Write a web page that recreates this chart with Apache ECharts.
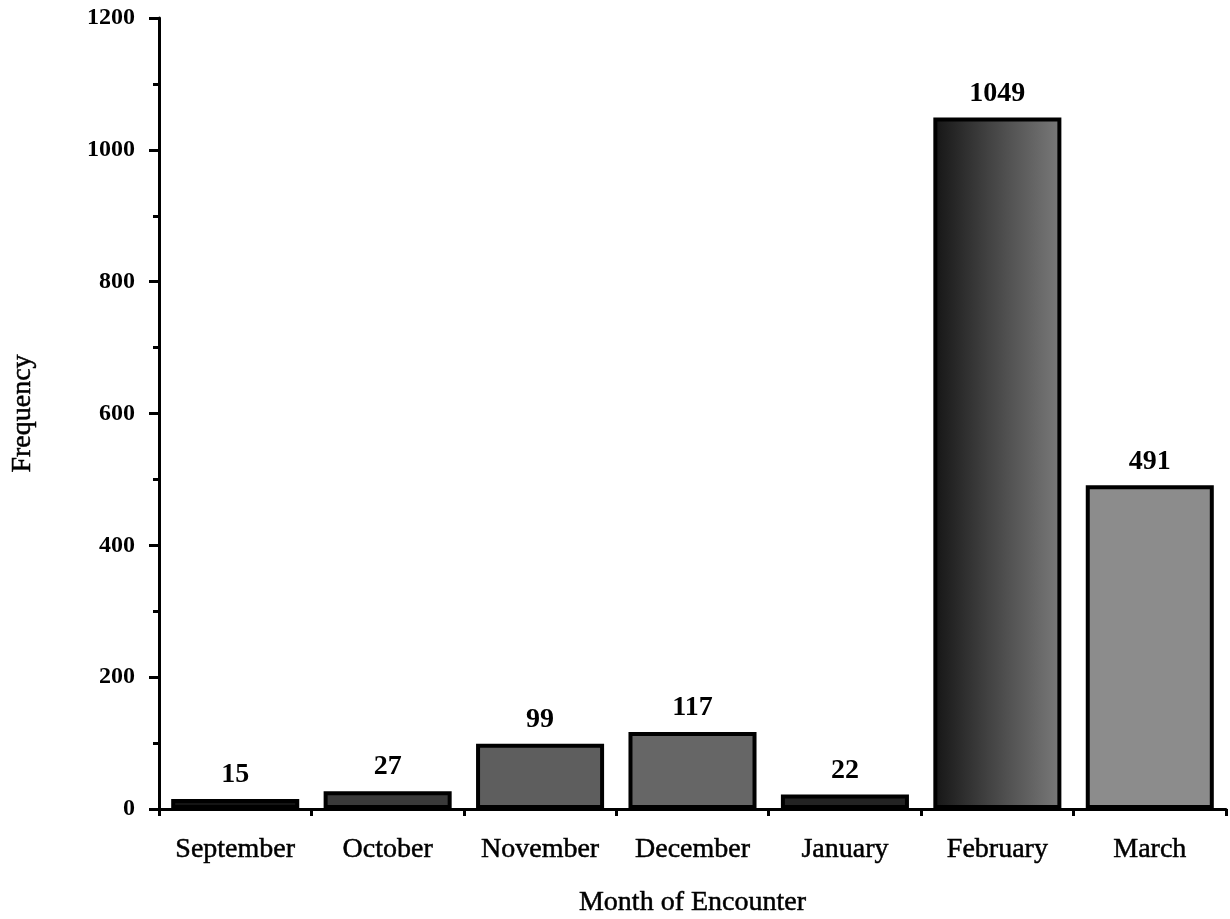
<!DOCTYPE html>
<html>
<head>
<meta charset="utf-8">
<style>html,body{margin:0;padding:0;background:#fff}#c{width:1230px;height:919px}</style>
<script src="https://cdn.jsdelivr.net/npm/echarts@6/dist/echarts.min.js"></script>
</head>
<body>
<div id="c"></div>
<script>
const categories = ['September','October','November','December','January','February','March'];
const frequency = [15, 27, 99, 117, 22, 1049, 491];
const barFills = ['#141414','#3a3a3a','#5e5e5e','#666666','#232323','grad','#8c8c8c'];

const font = "'Liberation Serif', 'Times New Roman', serif";
const heavy = {textBorderColor: '#000', textBorderWidth: 0.5};
const chart = echarts.init(document.getElementById('c'));
const data = frequency.map((v, i) => ({
  value: v,
  itemStyle: {
    color: barFills[i] === 'grad'
      ? new echarts.graphic.LinearGradient(0, 0, 1, 0, [
          {offset: 0, color: '#151515'}, {offset: 0.45, color: '#444'}, {offset: 1, color: '#7a7a7a'}])
      : barFills[i]
  }
}));
chart.setOption({
  animation: false,
  grid: {left: 159, right: 4, top: 18, bottom: 110, outerBoundsMode: 'none', containLabel: false},
  xAxis: {
    type: 'category',
    data: categories,
    name: 'Month of Encounter',
    nameLocation: 'middle',
    nameGap: 80,
    nameTextStyle: Object.assign({fontFamily: font, fontSize: 28, color: '#000'}, heavy),
    axisLine: {lineStyle: {color: '#000', width: 3}},
    axisTick: {show: true, length: 7, lineStyle: {color: '#000', width: 3}},
    axisLabel: Object.assign({interval: 0, fontFamily: font, fontSize: 28, color: '#000', margin: 27}, heavy)
  },
  yAxis: {
    type: 'value',
    min: 0, max: 1200, interval: 200,
    name: 'Frequency',
    nameLocation: 'middle',
    nameGap: 122,
    nameTextStyle: Object.assign({fontFamily: font, fontSize: 28, color: '#000'}, heavy),
    axisLine: {show: true, lineStyle: {color: '#000', width: 3}},
    axisTick: {show: true, length: 10, lineStyle: {color: '#000', width: 3}},
    minorTick: {show: true, splitNumber: 2, length: 6, lineStyle: {color: '#000', width: 3}},
    splitLine: {show: false},
    axisLabel: {fontFamily: font, fontSize: 24, fontWeight: 'bold', color: '#000', margin: 24,
      formatter: v => String(v)}
  },
  series: [{
    type: 'bar',
    data: data,
    barCategoryGap: '16%',
    itemStyle: {borderColor: '#000', borderWidth: 4},
    label: {show: true, position: 'top', distance: 10, fontFamily: font, fontSize: 28,
      fontWeight: 'bold', color: '#000'}
  }]
});
</script>
</body>
</html>
